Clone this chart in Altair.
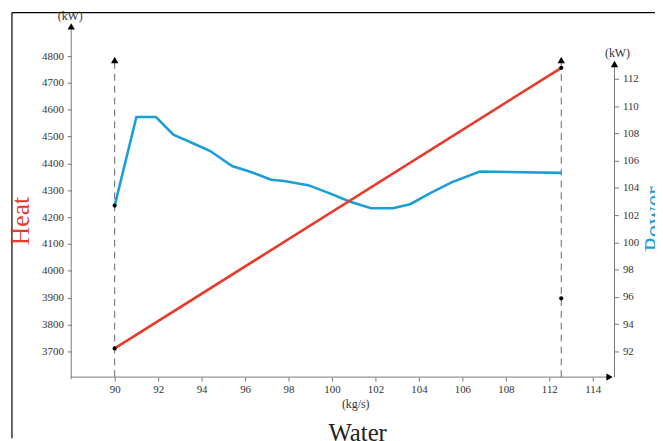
import altair as alt
import pandas as pd

# ---- data (x in axis units as drawn) ----
water = [90.0, 91.0, 91.9, 92.7, 93.7, 94.4, 95.4, 96.2, 97.2, 97.8, 98.9,
         99.9, 100.8, 101.8, 102.8, 103.6, 104.5, 105.5, 106.8, 110.55]
power = [102.7, 109.2, 109.2, 107.9, 107.2, 106.7, 105.6, 105.2, 104.6, 104.5,
         104.2, 103.6, 103.0, 102.5, 102.5, 102.8, 103.6, 104.4, 105.2, 105.1]
heat_water = [90.0, 110.55]
heat = [3711, 4756]
dot_water = [90.0, 110.55]
dot_power = [102.7, 95.9]
dash_water = [90.0, 110.55]
x_ticks = [90, 92, 94, 96, 98, 100, 102, 104, 106, 108, 110, 112]
left_ticks = [3700, 3800, 3900, 4000, 4100, 4200, 4300, 4400, 4500, 4600, 4700, 4800]
right_ticks = [92, 94, 96, 98, 100, 102, 104, 106, 108, 110, 112]

RED = "#e53b2c"
BLUE = "#1b9ed6"
FONT = "Liberation Serif"
W, H = 550, 359

df_power = pd.DataFrame({"water": water, "power": power})
df_heat = pd.DataFrame({"water": heat_water, "heat": heat})
df_dots = pd.DataFrame({"water": dot_water, "power": dot_power})
df_dash = pd.DataFrame({"water": dash_water})
one = pd.DataFrame({"t": [""]})

xaxis = alt.Axis(values=x_ticks, labelExpr="datum.value >= 110 ? datum.value + 2 : datum.value",
                 domain=False, grid=False, title=None, tickSize=4, tickColor="#777",
                 labelPadding=3)
X = alt.X("water:Q", scale=alt.Scale(domain=[88, 113], nice=False, zero=False), axis=xaxis)

LSCALE = alt.Scale(domain=[3604, 4925], nice=False, zero=False)
RSCALE = alt.Scale(domain=[90.12, 116.13], nice=False, zero=False)

laxis = alt.Axis(orient="left", values=left_ticks, format="d", domain=False, grid=False,
                 title=None, tickSize=4, tickColor="#777", labelPadding=4)
raxis = alt.Axis(orient="right", values=right_ticks, format="d", domain=False, grid=False,
                 title=None, tickSize=4, tickColor="#777", labelPadding=4)

power_line = alt.Chart(df_power).mark_line(color=BLUE, strokeWidth=2.6).encode(
    x=X, y=alt.Y("power:Q", scale=RSCALE, axis=raxis))
heat_line = alt.Chart(df_heat).mark_line(color=RED, strokeWidth=2.6).encode(
    x=X, y=alt.Y("heat:Q", scale=LSCALE, axis=laxis))

dashed = alt.Chart(df_dash).mark_rule(color="#666", strokeDash=[7, 5], strokeWidth=1).encode(
    x=X, y=alt.value(H), y2=alt.value(40))
dash_arrows = alt.Chart(df_dash).mark_point(shape="triangle-up", filled=True, color="black",
                                            size=55, opacity=1).encode(x=X, y=alt.value(38))

heat_dots = alt.Chart(df_heat).mark_circle(color="black", size=18, opacity=1).encode(
    x=X, y=alt.Y("heat:Q", scale=LSCALE, axis=None))
power_dots = alt.Chart(df_dots).mark_circle(color="black", size=18, opacity=1).encode(
    x=X, y=alt.Y("power:Q", scale=RSCALE, axis=None))


def rule(x, x2, y, y2, color="#777", sw=1):
    return alt.Chart(one).mark_rule(color=color, strokeWidth=sw).encode(
        x=alt.value(x), x2=alt.value(x2), y=alt.value(y), y2=alt.value(y2))


def arrow(x, y, shape):
    return alt.Chart(one).mark_point(shape=shape, filled=True, color="black", size=55,
                                     opacity=1).encode(x=alt.value(x), y=alt.value(y))


def label(txt, x, y, size, color="#222", angle=0):
    return alt.Chart(pd.DataFrame({"t": [txt]})).mark_text(
        font=FONT, fontSize=size, color=color, angle=angle, align="center",
        baseline="middle").encode(x=alt.value(x), y=alt.value(y), text="t:N")


decor = [
    rule(0, 0, H + 2, 4),              # left axis
    arrow(0, 4, "triangle-up"),
    rule(0, 546, H, H),                # x axis
    arrow(545, H, "triangle-right"),
    rule(W, W, H, 42),                 # right axis
    arrow(W, 42, "triangle-up"),
    rule(-60, 591, -10, -10, "#000", 1.2),  # frame top
    rule(-60, -60, -10, 421, "#000", 1.2),  # frame left
]

texts = [
    label("(kW)", -1, -7, 12, "#333"),
    label("(kW)", 553, 31, 12, "#333"),
    label("Heat", -51, 201, 26, RED, 270),
    label("Power", 590, 199, 26, BLUE, 270),
    label("(kg/s)", 288, 386, 12, "#333"),
    label("Water", 290, 416, 25, "#222"),
]

chart = alt.layer(
    power_line, heat_line, dashed, dash_arrows, heat_dots, power_dots, *decor, *texts
).resolve_scale(y="independent").properties(
    width=W, height=H,
    autosize=alt.AutoSizeParams(type="none"),
    padding={"left": 64, "top": 12, "right": 41, "bottom": 62},
    background="white",
).configure_view(stroke=None).configure_axis(
    labelFont=FONT, labelFontSize=11, labelColor="#333")

chart.save("out.html", embed_options={"renderer": "svg", "actions": False})
